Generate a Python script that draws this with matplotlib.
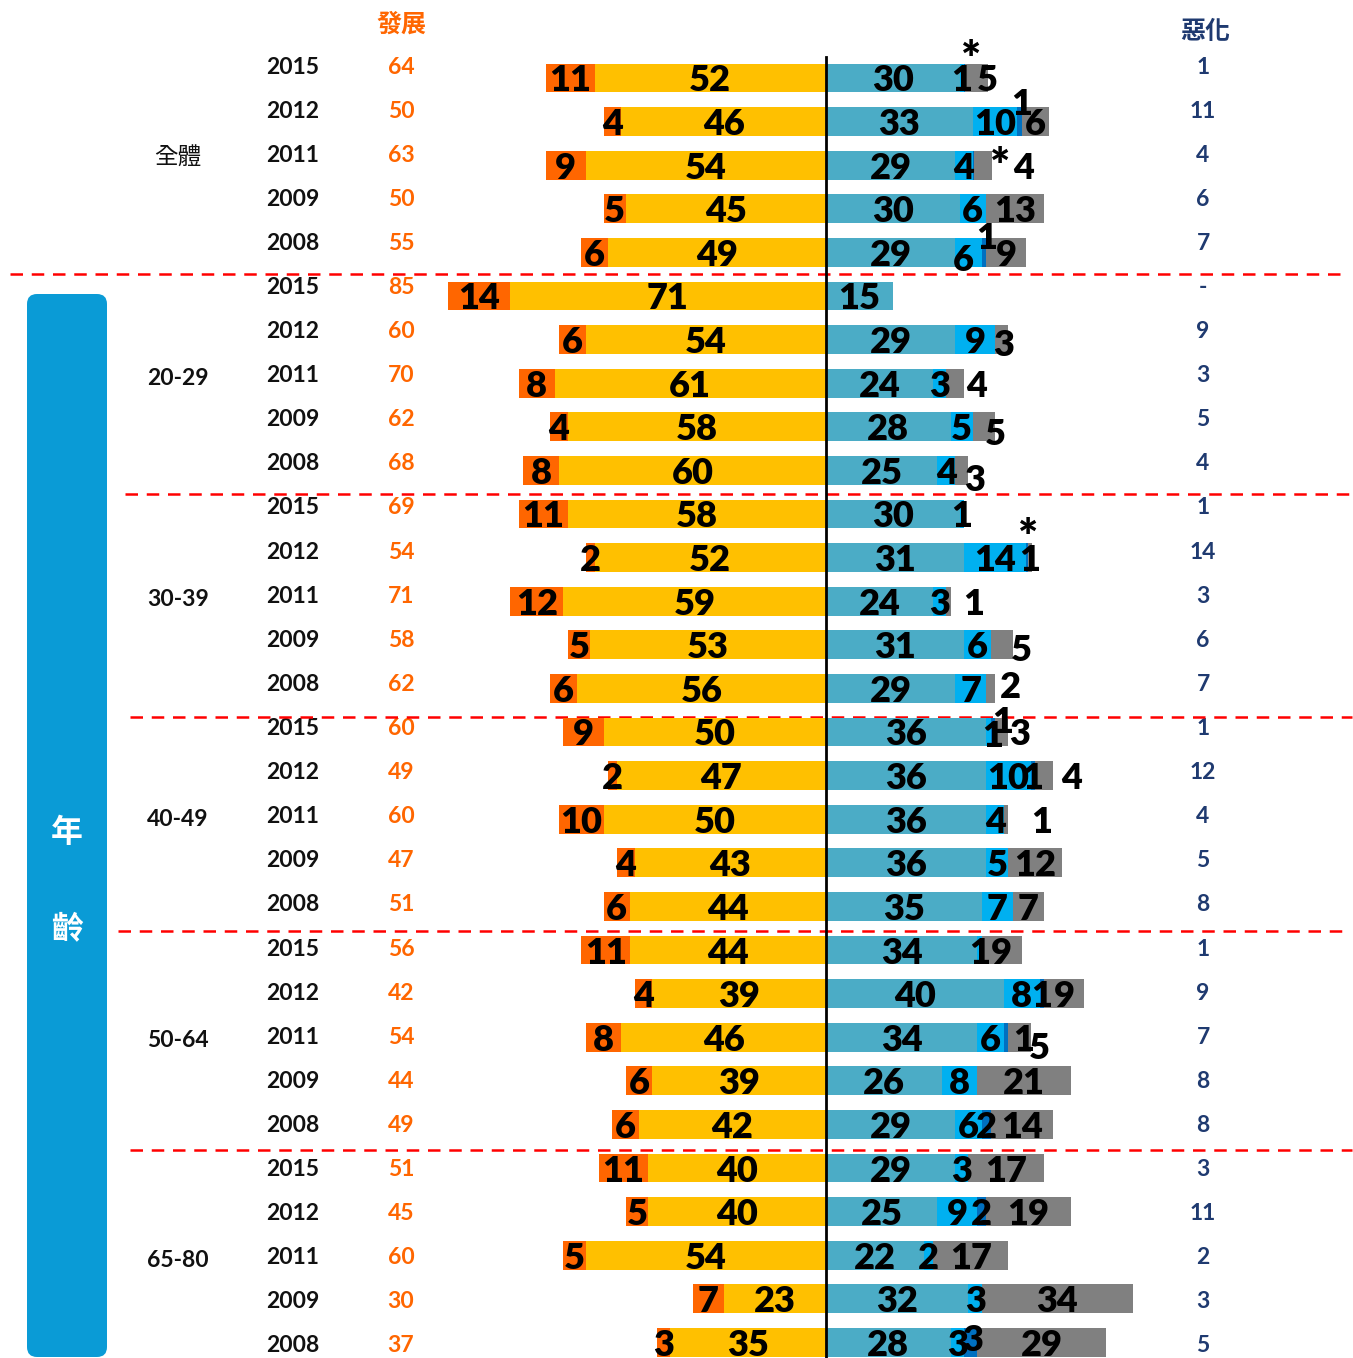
import matplotlib
matplotlib.use("Agg")
import matplotlib.pyplot as plt
from matplotlib.patches import FancyBboxPatch

# ---------------- data ----------------
groups = ["全體", "20-29", "30-39", "40-49", "50-64", "65-80"]
years = ["2015", "2012", "2011", "2009", "2008"]

# left side (發展): two segments
left_dark = [11, 4, 9, 5, 6,
             14, 6, 8, 4, 8,
             11, 2, 12, 5, 6,
             9, 2, 10, 4, 6,
             11, 4, 8, 6, 6,
             11, 5, 5, 7, 3]
left_light = [52, 46, 54, 45, 49,
              71, 54, 61, 58, 60,
              58, 52, 59, 53, 56,
              50, 47, 50, 43, 44,
              44, 39, 46, 39, 42,
              40, 40, 54, 23, 35]
develop_total = ["64", "50", "63", "50", "55",
                 "85", "60", "70", "62", "68",
                 "69", "54", "71", "58", "62",
                 "60", "49", "60", "47", "51",
                 "56", "42", "54", "44", "49",
                 "51", "45", "60", "30", "37"]

# right side: four segments (0.3 means "*", i.e. below 0.5)
right_teal = [30, 33, 29, 30, 29,
              15, 29, 24, 28, 25,
              30, 31, 24, 31, 29,
              36, 36, 36, 36, 35,
              34, 40, 34, 26, 29,
              29, 25, 22, 32, 28]
right_blue = [1, 10, 4, 6, 6,
              0, 9, 3, 5, 4,
              1, 14, 3, 6, 7,
              1, 10, 4, 5, 7,
              1, 8, 6, 8, 6,
              3, 9, 2, 3, 3]
right_dark = [0.3, 1, 0.3, 0, 1,
              0, 0, 0, 0, 0,
              0, 0.3, 0, 0, 0,
              1, 1, 0, 0, 0,
              0, 1, 1, 0, 2,
              0, 2, 0, 0, 3]
right_gray = [5, 6, 4, 13, 9,
              0, 3, 4, 5, 3,
              0, 1, 1, 5, 2,
              3, 4, 1, 12, 7,
              9, 9, 5, 21, 14,
              17, 19, 17, 34, 29]
worse_total = ["1", "11", "4", "6", "7",
               "-", "9", "3", "5", "4",
               "1", "14", "3", "6", "7",
               "1", "12", "4", "5", "8",
               "1", "9", "7", "8", "8",
               "3", "11", "2", "3", "5"]

# ---------------- style ----------------
W, H = 1353, 1358
C_ORANGE = "#FF6600"
C_YELLOW = "#FFC000"
C_TEAL = "#4BACC6"
C_BLUE = "#00B0F0"
C_DARK = "#0070C0"
C_GRAY = "#808080"
C_NAVY = "#1F3A70"
C_BOX = "#0A9BD6"
LAT = ["Lato", "Noto Sans CJK TC", "DejaVu Sans"]
CJK = ["Noto Sans CJK TC", "DejaVu Sans"]

X0 = 826.0      # pixel position of zero line
SX = 4.45       # pixels per percent
Y0 = 78.0       # pixel centre of first bar
SY = 43.6       # pixels per row


def px2x(px):
    return (px - X0) / SX


def py2y(py):
    return (py - Y0) / SY


fig = plt.figure(figsize=(W / 100, H / 100), dpi=100)

# overlay axes in pixel units for decorations
deco = fig.add_axes([0, 0, 1, 1])
deco.set_xlim(0, W)
deco.set_ylim(H, 0)
deco.axis("off")

ax = fig.add_axes([0, 0, 1, 1])
ax.set_xlim(px2x(0), px2x(W))
ax.set_ylim(py2y(H), py2y(0))
ax.axis("off")
ax.patch.set_alpha(0)

n = len(left_dark)
rows = list(range(n))
bh = 0.665

# left bars (negative direction)
ax.barh(rows, [-v for v in left_light], height=bh, color=C_YELLOW, zorder=2)
ax.barh(rows, [-v for v in left_dark], left=[-v for v in left_light],
        height=bh, color=C_ORANGE, zorder=2)

# right bars (stacked)
segs = [right_teal, right_blue, right_dark, right_gray]
cols = [C_TEAL, C_BLUE, C_DARK, C_GRAY]
lefts = [0.0] * n
seg_left = []
for vals, c in zip(segs, cols):
    ax.barh(rows, vals, left=lefts, height=bh, color=c, zorder=2)
    seg_left.append(list(lefts))
    lefts = [a + b for a, b in zip(lefts, vals)]

# label offsets (pixels) for crowded small segments: (row, seg) -> (dx, dy)
shift = {
    (0, 2): (7, -20), (0, 3): (11, 0),
    (1, 2): (2, -20),
    (2, 2): (27, 0), (2, 3): (40, 0),
    (4, 1): (-5, 5), (4, 2): (3, -17),
    (6, 3): (2, 3),
    (7, 3): (22, 0), (8, 3): (11, 5), (9, 3): (13, 7),
    (11, 2): (1, -22),
    (12, 3): (25, 0), (13, 3): (20, 3), (14, 3): (20, -4),
    (15, 1): (4, 2), (15, 2): (10, -12), (15, 3): (18, 0),
    (16, 3): (28, 0), (17, 3): (35, 0),
    (22, 2): (17, 0), (22, 3): (20, 8),
    (29, 2): (2, -5),
}

FS_BAR = 26
# left labels
for i in rows:
    for v, cx in ((left_dark[i], -left_light[i] - left_dark[i] / 2),
                  (left_light[i], -left_light[i] / 2)):
        if v > 0:
            ax.annotate(str(v), (cx, i), xytext=(0, -3), textcoords="offset pixels",
                        ha="center", va="center", fontsize=FS_BAR,
                        fontweight="heavy", family=LAT, zorder=5)

# right labels
for i in rows:
    for k, vals in enumerate(segs):
        v = vals[i]
        if v <= 0:
            continue
        star = v < 0.5
        lab = "*" if star else str(int(v))
        cx = seg_left[k][i] + v / 2
        dx, dy = shift.get((i, k), (0, 0))
        ax.annotate(lab, (cx, i), xytext=(dx, -3 - dy), textcoords="offset pixels",
                    ha="center", va="center", fontsize=34 if star else FS_BAR,
                    fontweight="heavy", family=LAT, zorder=5)

# zero line
ax.plot([0, 0], [py2y(57), py2y(H)], color="black", lw=2, zorder=4)

# row text columns (pixel coordinates)
for i in rows:
    yl = 67 + 44.1 * i
    deco.text(293, yl, years[i % 5], ha="center", va="center",
              fontsize=16.5, fontweight="bold", family=LAT, color="#111111")
    deco.text(401, yl, develop_total[i], ha="center", va="center",
              fontsize=16.5, fontweight="bold", family=LAT, color=C_ORANGE)
    deco.text(1203, yl, worse_total[i], ha="center", va="center",
              fontsize=16.5, fontweight="bold", family=LAT, color=C_NAVY)

for g, name in enumerate(groups):
    yl = 67 + 44.1 * (g * 5 + 2) + 3
    fam = CJK if g == 0 else LAT
    deco.text(178, yl, name, ha="center", va="center",
              fontsize=17 if g == 0 else 16.5,
              fontweight="medium" if g == 0 else "bold",
              family=fam, color="#111111")

# headers
deco.text(401, 25, "發展", ha="center", va="center", fontsize=18,
          fontweight="bold", family=CJK, color=C_ORANGE)
deco.text(1205, 32, "惡化", ha="center", va="center", fontsize=18,
          fontweight="bold", family=CJK, color=C_NAVY)

# separators
seps = [(274, 10, 1345), (494, 125, 1352), (717, 130, 1352),
        (931, 118, 1345), (1150, 130, 1352)]
for py, xa, xb in seps:
    deco.plot([xa, xb], [py, py], color="#FF0000",
              lw=1.8, ls=(0, (5, 3.5)), zorder=3)

# age box
box = FancyBboxPatch((27, 294), 80, 1063,
                     boxstyle="round,pad=0,rounding_size=10",
                     facecolor=C_BOX, edgecolor="none", zorder=1)
deco.add_patch(box)
deco.text(67, 833, "年", ha="center", va="center", fontsize=23,
          fontweight="bold", family=CJK, color="white", zorder=3)
deco.text(67, 930, "齡", ha="center", va="center", fontsize=23,
          fontweight="bold", family=CJK, color="white", zorder=3)

fig.savefig("out.png", dpi=100)
